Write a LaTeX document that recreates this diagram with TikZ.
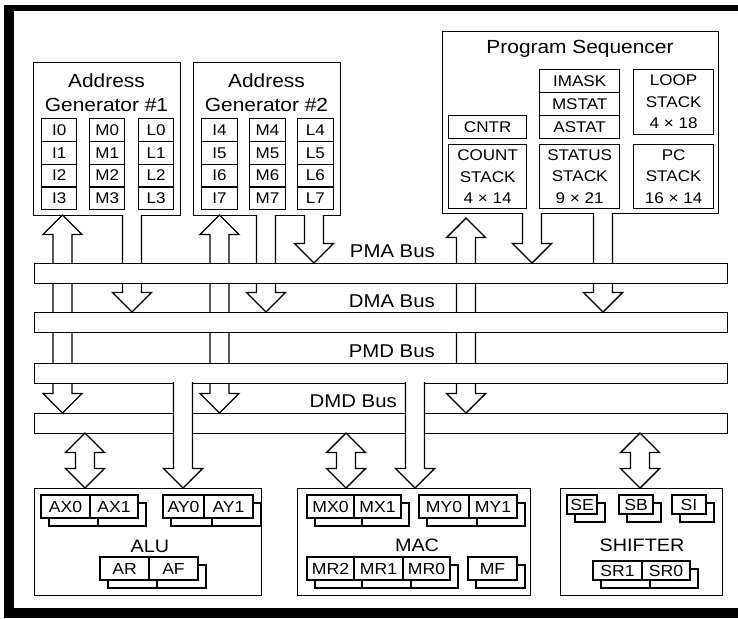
\documentclass[tikz,border=0pt]{standalone}
\usepackage{fontspec}
\setmainfont{Liberation Sans}[FakeStretch=1.1]
\tikzset{
  box/.style={draw, line width=1.4pt, fill=white, inner sep=0pt},
  cell/.style={draw, line width=1.3pt, fill=white, inner sep=0pt, align=center},
  shadowbox/.style={draw, line width=1.2pt, fill=white},
  barrow/.style={draw, line width=1.4pt, fill=white, line join=miter},
  bus/.style={draw, line width=1.4pt, fill=white, inner sep=0pt},
  ttl/.style={font=\fontsize{19}{25}\selectfont, inner sep=0pt},
  agreg/.style={font=\fontsize{15.5}{21}\selectfont},
  psreg/.style={font=\fontsize{15.5}{21.5}\selectfont},
  ureg/.style={font=\fontsize{16}{19}\selectfont},
  buslbl/.style={font=\fontsize{18.5}{20}\selectfont, inner sep=0pt},
  unitlbl/.style={font=\fontsize{18}{20}\selectfont, inner sep=0pt},
}
\newcommand\arrShaft{9.5}
\newcommand\arrHead{19.5}
\newcommand\arrLen{19.5}
% down block arrow: x, y top of shaft, y tip
\newcommand\downblk[3]{%
  \draw[barrow] ({#1-\arrShaft},#2) -- ({#1-\arrShaft},{#3-\arrLen}) -- ({#1-\arrHead},{#3-\arrLen}) -- (#1,#3) -- ({#1+\arrHead},{#3-\arrLen}) -- ({#1+\arrShaft},{#3-\arrLen}) -- ({#1+\arrShaft},#2);}
% double block arrow: x, y top tip, y bottom tip
\newcommand\dblblk[3]{%
  \draw[barrow] ({#1-\arrShaft},{#2+\arrLen}) -- ({#1-\arrHead},{#2+\arrLen}) -- (#1,#2) -- ({#1+\arrHead},{#2+\arrLen}) -- ({#1+\arrShaft},{#2+\arrLen}) -- ({#1+\arrShaft},{#3-\arrLen}) -- ({#1+\arrHead},{#3-\arrLen}) -- (#1,#3) -- ({#1-\arrHead},{#3-\arrLen}) -- ({#1-\arrShaft},{#3-\arrLen}) -- cycle;}
% register row with drop shadow: y top, y bottom, list x0/x1/label/name
\newcommand\regrow[3]{%
  \foreach \xa/\xb/\lab/\nm in {#3} {\draw[shadowbox] ({\xa+8},{#1+8}) rectangle ({\xb+8},{#2+8});}
  \foreach \xa/\xb/\lab/\nm in {#3} {%
    \pgfmathsetmacro\regW{\xb-\xa}\pgfmathsetmacro\regH{#2-#1}%
    \node[cell, ureg, minimum width=\regW pt, minimum height=\regH pt] (\nm) at ({(\xa+\xb)/2},{(#1+#2)/2}) {\lab};}}
\begin{document}
\begin{tikzpicture}[x=1pt, y=-1pt]
\useasboundingbox (0,0) rectangle (738,618);
% frame
\fill (4,5) rectangle (738,11);
\fill (4,5) rectangle (14,618);
\fill (4,608) rectangle (738,618);

% Address generator 1
\node[box, anchor=north west, minimum width=147pt, minimum height=153pt] (ag1) at (33,62) {};
\node[ttl, anchor=base] (ag1t1) at (106.5,87) {Address};
\node[ttl, anchor=base] (ag1t2) at (106.5,111.5) {Generator \#1};
\foreach \c/\x in {I/41, M/89, L/138} \foreach \r in {0,...,3} {
  \node[cell, agreg, minimum width=35pt, minimum height=22.75pt, anchor=north west] (ag1\c\r) at (\x,{118+22.75*\r}) {\c\r};
}
% Address generator 2
\node[box, anchor=north west, minimum width=147pt, minimum height=153pt] (ag2) at (193,62) {};
\node[ttl, anchor=base] (ag2t1) at (266.5,87) {Address};
\node[ttl, anchor=base] (ag2t2) at (266.5,111.5) {Generator \#2};
\foreach \c/\x in {I/201, M/249, L/297} \foreach \r in {0,...,3} {
  \pgfmathtruncatemacro\regN{\r+4}
  \node[cell, agreg, minimum width=35.5pt, minimum height=22.75pt, anchor=north west] (ag2\c\r) at (\x,{118+22.75*\r}) {\c\regN};
}
% Program sequencer
\node[box, anchor=north west, minimum width=276pt, minimum height=182pt] (ps) at (442,31) {};
\node[ttl, anchor=base] (pst) at (580,53) {Program Sequencer};
\node[cell, psreg, minimum width=80pt, minimum height=23pt, anchor=north west] (imask) at (539,69) {IMASK};
\node[cell, psreg, minimum width=80pt, minimum height=23pt, anchor=north west] (mstat) at (539,92) {MSTAT};
\node[cell, psreg, minimum width=80pt, minimum height=23pt, anchor=north west] (astat) at (539,115) {ASTAT};
\node[cell, psreg, minimum width=78pt, minimum height=23pt, anchor=north west] (cntr) at (448,115) {CNTR};
\node[cell, psreg, minimum width=80pt, minimum height=65pt, anchor=north west] (loop) at (633,69) {LOOP\\STACK\\4 × 18};
\node[cell, psreg, minimum width=78pt, minimum height=64pt, anchor=north west] (count) at (448,144) {COUNT\\STACK\\4 × 14};
\node[cell, psreg, minimum width=80pt, minimum height=64pt, anchor=north west] (status) at (539,144) {STATUS\\STACK\\9 × 21};
\node[cell, psreg, minimum width=80pt, minimum height=64pt, anchor=north west] (pc) at (633,144) {PC\\STACK\\16 × 14};

% arrows passing behind the buses
\dblblk{62.5}{215}{413}
\downblk{132}{215}{312}
\dblblk{219.5}{215}{413}
\downblk{266}{215}{312}
\downblk{314}{215}{263}
\dblblk{466}{218}{413}
\downblk{532}{213}{263}
\downblk{603}{213}{312}

% buses
\node[bus, anchor=north west, minimum width=693pt, minimum height=20pt] (pma) at (34,263) {};
\node[bus, anchor=north west, minimum width=693pt, minimum height=19.5pt] (dma) at (34,312) {};
\node[bus, anchor=north west, minimum width=693pt, minimum height=20pt] (pmd) at (34,363) {};
\node[bus, anchor=north west, minimum width=693pt, minimum height=20pt] (dmd) at (34,413) {};
\node[buslbl, anchor=base east] (pmal) at (435,257) {PMA Bus};
\node[buslbl, anchor=base east] (dmal) at (435,307) {DMA Bus};
\node[buslbl, anchor=base east] (pmdl) at (435,357) {PMD Bus};
\node[buslbl, anchor=base east] (dmdl) at (397,407) {DMD Bus};

% computational units
\node[box, anchor=north west, minimum width=227pt, minimum height=107pt] (alu) at (34,488) {};
\node[box, anchor=north west, minimum width=233pt, minimum height=107pt] (mac) at (297,488) {};
\node[box, anchor=north west, minimum width=162pt, minimum height=107pt] (shifter) at (560,488) {};
\node[unitlbl, anchor=base] (alul) at (150,552) {ALU};
\node[unitlbl, anchor=base] (macl) at (417,551) {MAC};
\node[unitlbl, anchor=base] (shl) at (642,551) {SHIFTER};

\regrow{495}{518}{41/90/AX0/ax0, 90/138/AX1/ax1}
\regrow{495}{518}{163/204/AY0/ay0, 204/253/AY1/ay1}
\regrow{557}{580}{100/149/AR/ar, 149/198/AF/af}
\regrow{495}{518}{307/354/MX0/mx0, 354/401/MX1/mx1}
\regrow{495}{518}{419/469/MY0/my0, 469/517/MY1/my1}
\regrow{557}{580}{307/354/MR2/mr2, 354/403/MR1/mr1, 403/450/MR0/mr0}
\regrow{557}{580}{468/517/MF/mf}
\regrow{495}{514}{567/597/SE/se}
\regrow{495}{514}{619/653/SB/sb}
\regrow{495}{514}{672/706/SI/si}
\regrow{561}{580}{593/642/SR1/sr1, 642/690/SR0/sr0}

% arrows from PMD bus over DMD bus
\downblk{183}{382}{488}
\downblk{415}{382}{488}
% DMD bus <-> units
\dblblk{85}{433}{488}
\dblblk{346}{433}{488}
\dblblk{640}{433}{488}
\end{tikzpicture}
\end{document}
